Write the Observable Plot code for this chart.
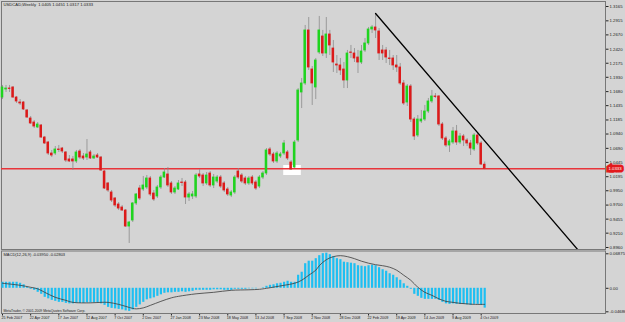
<!DOCTYPE html>
<html><head><meta charset="utf-8">
<script src="https://cdn.jsdelivr.net/npm/d3@7"></script>
<script src="https://cdn.jsdelivr.net/npm/@observablehq/plot@0.6"></script>
<style>
html,body{margin:0;padding:0;background:#d4d4d4;width:625px;height:322px;overflow:hidden}
#chart{width:625px;height:322px}
#chart svg{display:block}
</style></head><body><div id="chart"></div>
<script>
// USDCAD weekly bars, 25 Feb 2007 .. 11 Oct 2009 (index = week number)
const open = [
1.1577,1.1717,1.1734,1.1752,1.1577,1.1490,1.1490,1.1351,1.1211,1.1141,
1.1054,1.1089,1.0879,1.0792,1.0600,1.0600,1.0670,1.0687,1.0618,1.0496,
1.0496,1.0461,1.0635,1.0548,1.0530,1.0618,1.0513,1.0565,1.0530,1.0286,
1.0077,0.9920,0.9815,0.9710,0.9658,0.9605,0.9326,0.9431,0.9728,0.9989,
0.9972,1.0007,1.0164,0.9902,0.9850,1.0007,1.0181,1.0234,1.0077,0.9920,
0.9972,1.0094,1.0094,0.9832,0.9850,0.9850,1.0234,1.0216,1.0077,1.0251,
1.0042,1.0111,1.0181,1.0077,0.9972,0.9867,0.9920,1.0286,1.0216,1.0164,
1.0077,1.0181,1.0094,1.0024,1.0181,1.0251,1.0670,1.0583,1.0461,1.0548,
1.0600,1.0618,1.0443,1.0356,1.0827,1.1665,1.1822,1.2747,1.2066,1.1752,
1.2363,1.2642,1.2345,1.2677,1.2432,1.2153,1.2136,1.2066,1.1874,1.2363,
1.2345,1.2275,1.2188,1.2398,1.2520,1.2764,1.2799,1.2729,1.2398,1.2398,
1.2258,1.2258,1.2136,1.2101,1.1822,1.1490,1.1769,1.1193,1.0914,1.1159,
1.1193,1.1333,1.1508,1.1595,1.1595,1.1106,1.0862,1.0740,1.0792,1.0984,
1.0792,1.0897,1.0827,1.0775,1.0670,1.0914,1.0775,1.0405];
const high = [
1.1787,1.1787,1.1787,1.1769,1.1595,1.1542,1.1508,1.1368,1.1246,1.1176,
1.1141,1.1106,1.0897,1.0810,1.0653,1.0722,1.0740,1.0705,1.0635,1.0565,
1.0548,1.0653,1.0670,1.0600,1.0844,1.0653,1.0583,1.0600,1.0548,1.0304,
1.0094,0.9955,0.9832,0.9745,0.9693,0.9623,0.9414,0.9745,0.9902,1.0042,
1.0199,1.0216,1.0199,0.9955,1.0042,1.0216,1.0338,1.0356,1.0111,1.0024,
1.0129,1.0164,1.0129,0.9920,0.9937,1.0251,1.0321,1.0251,1.0269,1.0286,
1.0234,1.0216,1.0216,1.0111,1.0007,0.9955,1.0216,1.0338,1.0251,1.0199,
1.0199,1.0216,1.0129,1.0216,1.0286,1.0687,1.0705,1.0618,1.0635,1.0618,
1.0827,1.0653,1.0478,1.0827,1.1734,1.1909,1.2834,1.2973,1.2118,1.2258,
1.2991,1.2747,1.2973,1.2747,1.2572,1.2310,1.2258,1.2188,1.2398,1.2485,
1.2432,1.2398,1.2485,1.2607,1.2799,1.2834,1.3043,1.2781,1.2485,1.2450,
1.2398,1.2310,1.2310,1.2171,1.1874,1.1804,1.1804,1.1228,1.1263,1.1351,
1.1438,1.1560,1.1700,1.1647,1.1612,1.1141,1.0897,1.0844,1.1054,1.1089,
1.0949,1.0932,1.0862,1.0827,1.0949,1.0967,1.0810,1.0451];
const low = [
1.1542,1.1665,1.1665,1.1560,1.1473,1.1438,1.1351,1.1211,1.1106,1.1036,
1.1036,1.0862,1.0757,1.0565,1.0530,1.0565,1.0618,1.0600,1.0443,1.0443,
1.0304,1.0426,1.0496,1.0478,1.0478,1.0496,1.0496,1.0513,1.0286,0.9972,
0.9920,0.9745,0.9658,0.9605,0.9588,0.9309,0.9030,0.9396,0.9693,0.9780,
0.9937,0.9972,0.9850,0.9763,0.9815,0.9972,1.0164,1.0007,0.9885,0.9885,
0.9955,1.0024,0.9710,0.9763,0.9798,0.9815,1.0164,1.0024,1.0042,1.0007,
0.9989,1.0077,0.9989,0.9920,0.9850,0.9832,0.9885,1.0146,1.0077,1.0042,
1.0042,1.0042,0.9955,0.9989,1.0146,1.0216,1.0548,1.0426,1.0426,1.0513,
1.0565,1.0478,1.0304,1.0338,1.0792,1.1385,1.1787,1.2049,1.1438,1.1542,
1.2328,1.2293,1.2258,1.2310,1.2014,1.1996,1.1961,1.1734,1.1734,1.2258,
1.2188,1.1996,1.2153,1.2363,1.2485,1.2694,1.2607,1.2223,1.2223,1.2171,
1.2136,1.2049,1.2014,1.1787,1.1438,1.1420,1.1141,1.0827,1.0879,1.1124,
1.1159,1.1298,1.1473,1.1560,1.1071,1.0827,1.0705,1.0618,1.0757,1.0740,
1.0757,1.0722,1.0722,1.0565,1.0635,1.0740,1.0391,1.0317];
const close = [
1.1752,1.1734,1.1726,1.1577,1.1508,1.1473,1.1368,1.1228,1.1124,1.1071,
1.1106,1.0879,1.0775,1.0600,1.0565,1.0670,1.0661,1.0635,1.0478,1.0461,
1.0461,1.0618,1.0530,1.0513,1.0583,1.0513,1.0548,1.0530,1.0304,0.9989,
0.9955,0.9780,0.9693,0.9640,0.9605,0.9326,0.9396,0.9728,0.9885,0.9815,
1.0042,1.0164,0.9885,0.9798,1.0007,1.0181,1.0269,1.0042,0.9920,0.9989,
1.0077,1.0085,0.9832,0.9885,0.9885,1.0216,1.0199,1.0077,1.0216,1.0042,
1.0181,1.0181,1.0024,0.9955,0.9885,0.9920,1.0181,1.0181,1.0111,1.0077,
1.0164,1.0077,0.9989,1.0181,1.0251,1.0653,1.0583,1.0461,1.0600,1.0583,
1.0775,1.0513,1.0321,1.0792,1.1700,1.1822,1.2747,1.2101,1.1822,1.2223,
1.2747,1.2345,1.2677,1.2485,1.2188,1.2136,1.2049,1.1874,1.2345,1.2355,
1.2258,1.2188,1.2380,1.2520,1.2764,1.2799,1.2747,1.2345,1.2345,1.2275,
1.2249,1.2136,1.2101,1.1822,1.1473,1.1769,1.1193,1.0897,1.1193,1.1193,
1.1333,1.1508,1.1595,1.1586,1.1106,1.0862,1.0740,1.0810,1.0984,1.0792,
1.0897,1.0827,1.0775,1.0687,1.0914,1.0775,1.0408,1.0333];

// MACD(12,26,9) main values (histogram), one per week
const macd = [
0.012,0.012,0.012,0.012,0.012,0.010,0.007,0.002,-0.002,-0.004,
-0.008,-0.012,-0.018,-0.021,-0.024,-0.026,-0.028,-0.028,-0.030,-0.031,
-0.031,-0.030,-0.030,-0.030,-0.029,-0.029,-0.029,-0.029,-0.031,-0.034,
-0.038,-0.040,-0.041,-0.042,-0.043,-0.045,-0.046,-0.043,-0.038,-0.033,
-0.028,-0.023,-0.021,-0.019,-0.016,-0.013,-0.010,-0.009,-0.009,-0.008,
-0.008,-0.007,-0.008,-0.007,-0.006,-0.004,-0.004,-0.004,-0.004,-0.004,
-0.003,-0.003,-0.003,-0.004,-0.004,-0.004,-0.002,-0.002,-0.002,-0.002,
-0.001,-0.001,-0.001,0.000,0.001,0.004,0.006,0.007,0.009,0.010,
0.012,0.014,0.012,0.012,0.026,0.032,0.049,0.054,0.054,0.059,
0.065,0.069,0.070,0.067,0.063,0.059,0.057,0.052,0.051,0.050,
0.049,0.045,0.044,0.043,0.045,0.046,0.045,0.041,0.037,0.034,
0.029,0.026,0.021,0.016,0.009,0.004,-0.002,-0.012,-0.016,-0.020,
-0.022,-0.022,-0.022,-0.022,-0.024,-0.028,-0.031,-0.032,-0.031,-0.032,
-0.032,-0.032,-0.033,-0.034,-0.032,-0.032,-0.034,-0.0395];
// signal line, read at selected weeks
const sigIdx = [0,5,8,10,12,15,18,20,25,28,30,33,35,37,38,40,42,45,48,50,55,60,65,70,73,75,80,83,85,87,89,90,92,94,96,98,100,102,104,106,108,110,112,114,116,118,120,122,124,126,128,130,132,134,137];
const sigVal = [0.010,0.006,0.002,-0.001,-0.008,-0.018,-0.024,-0.028,-0.029,-0.028,-0.028,-0.032,-0.036,-0.040,-0.041,-0.039,-0.034,-0.026,-0.019,-0.016,-0.011,-0.008,-0.004,-0.003,-0.002,0.000,0.006,0.010,0.016,0.026,0.036,0.045,0.057,0.063,0.065,0.063,0.059,0.054,0.050,0.047,0.045,0.042,0.036,0.026,0.016,0.002,-0.008,-0.014,-0.021,-0.026,-0.028,-0.030,-0.031,-0.032,-0.032];

const yTicks = [1.3165,1.2915,1.2670,1.2420,1.2175,1.1930,1.1680,1.1435,1.1185,1.0940,1.0690,1.0445,1.0195,0.9950,0.9700,0.9455,0.9210,0.8960];
const macdTicks = [0.06875, 0, -0.04686];
const macdTickLabels = ["0.06875", "0.00", "-0.04686"];
const xTickIdx = [0,8,16,24,32,40,48,56,64,72,80,88,96,104,112,120,128,136];
const xTickLabels = ["25 Feb 2007","22 Apr 2007","17 Jun 2007","12 Aug 2007","7 Oct 2007","2 Dec 2007","27 Jan 2008","23 Mar 2008","18 May 2008","13 Jul 2008","7 Sep 2008","2 Nov 2008","28 Dec 2008","22 Feb 2009","19 Apr 2009","14 Jun 2009","9 Aug 2009","4 Oct 2009"];

// drawn objects
const trendIdx = [106, 163.4];
const trendPrice = [1.3043, 0.8925];
const boxIdx = [79.9, 84.9];
const boxPrice = [1.0216, 1.0391];
const lastClose = 1.0333;
const header = "USDCAD,Weekly  1.0405 1.0451 1.0317 1.0333";
const macdHeader = "MACD(12,26,9) -0.03950 -0.02803";
const copyright = "MetaTrader, \u00a9 2001-2009 MetaQuotes Software Corp.";

const bars = open.map((o, i) => ({i, o, h: high[i], l: low[i], c: close[i], up: close[i] >= o}));
const trend = trendIdx.map((i, k) => ({i, p: trendPrice[k]}));
const signal = sigIdx.map((i, k) => ({i, v: sigVal[k]}));
const macdData = macd.map((v, i) => ({i, v}));

const FONT = "'Liberation Sans', Arial, sans-serif";
const BG = "#d4d4d4";
const xDomain = [0, 137], xRange = [2, 484.2];

const main = Plot.plot({
  width: 625, height: 250,
  marginLeft: 1, marginRight: 20, marginTop: 1, marginBottom: 1,
  style: {background: BG, fontFamily: FONT, fontSize: "4.3px", color: "#222", overflow: "visible"},
  x: {type: "linear", domain: xDomain, range: xRange, axis: null},
  y: {type: "linear", domain: [0.8925, 1.3235], range: [249, 2], axis: "right",
      ticks: yTicks, tickFormat: d => d.toFixed(4), tickSize: 2.5, tickPadding: 1.5, label: null},
  marks: [
    Plot.frame({stroke: "#777"}),
    Plot.rect([0], {x1: () => boxIdx[0], x2: () => boxIdx[1], y1: () => boxPrice[0], y2: () => boxPrice[1], fill: "white"}),
    Plot.ruleY([lastClose], {stroke: "#e8343a", strokeWidth: 1.5}),
    Plot.ruleX(bars, {x: "i", y1: "l", y2: "h", stroke: "#8c8c8c", strokeWidth: 0.8}),
    Plot.rect(bars.filter(d => d.up), {x1: d => d.i - 0.36, x2: d => d.i + 0.36, y1: "o", y2: "c", fill: "#1fd41f", insetTop: -0.4, insetBottom: -0.4}),
    Plot.rect(bars.filter(d => !d.up), {x1: d => d.i - 0.36, x2: d => d.i + 0.36, y1: "o", y2: "c", fill: "#dc1a1a", insetTop: -0.4, insetBottom: -0.4}),
    Plot.line(trend, {x: "i", y: "p", stroke: "black", strokeWidth: 1.3, clip: true}),
    Plot.text([lastClose], {y: d => d, frameAnchor: "right", text: d => d.toFixed(4), textAnchor: "start", dx: 3,
      fill: "white", stroke: "#e3191c", strokeWidth: 5, strokeLinejoin: "miter", fontSize: 4.3}),
    Plot.text([header], {frameAnchor: "top-left", text: d => d, textAnchor: "start", lineAnchor: "top", dx: 2, dy: 2, fill: "#222", fontSize: 4.2})
  ]
});

const macdPlot = Plot.plot({
  width: 625, height: 72,
  marginLeft: 1, marginRight: 20, marginTop: 0.5, marginBottom: 9,
  style: {background: BG, fontFamily: FONT, fontSize: "4.3px", color: "#222", overflow: "visible"},
  x: {type: "linear", domain: xDomain, range: xRange, axis: "bottom", ticks: xTickIdx, tickFormat: () => "", tickSize: 2.5, label: null},
  y: {type: "linear", domain: [-0.0502, 0.0733], range: [63, 1], axis: "right", ticks: macdTicks,
      tickFormat: d => macdTickLabels[macdTicks.indexOf(d)], tickSize: 2.5, tickPadding: 1.5, label: null},
  marks: [
    Plot.frame({stroke: "#777"}),
    Plot.ruleX(macdData, {x: "i", y1: 0, y2: "v", stroke: "#1dbff2", strokeWidth: 2.2}),
    Plot.line(signal, {x: "i", y: "v", stroke: "#3a3a3a", strokeWidth: 0.8, curve: "catmull-rom"}),
    Plot.text([macdHeader], {frameAnchor: "top-left", text: d => d, textAnchor: "start", lineAnchor: "top", dx: 2, dy: 2.5, fill: "#222", fontSize: 4.0}),
    Plot.text([copyright], {frameAnchor: "bottom-left", text: d => d, textAnchor: "start", lineAnchor: "bottom", dx: 2, dy: -1.5, fill: "#222", fontSize: 3.4}),
    Plot.text(xTickIdx, {x: d => d, frameAnchor: "bottom", text: (d, k) => xTickLabels[k], textAnchor: "start", lineAnchor: "middle", dx: -1, dy: 4.5, fill: "#222", fontSize: 3.7})
  ]
});

const root = document.getElementById("chart");
root.append(main, macdPlot);
</script>
</body></html>
